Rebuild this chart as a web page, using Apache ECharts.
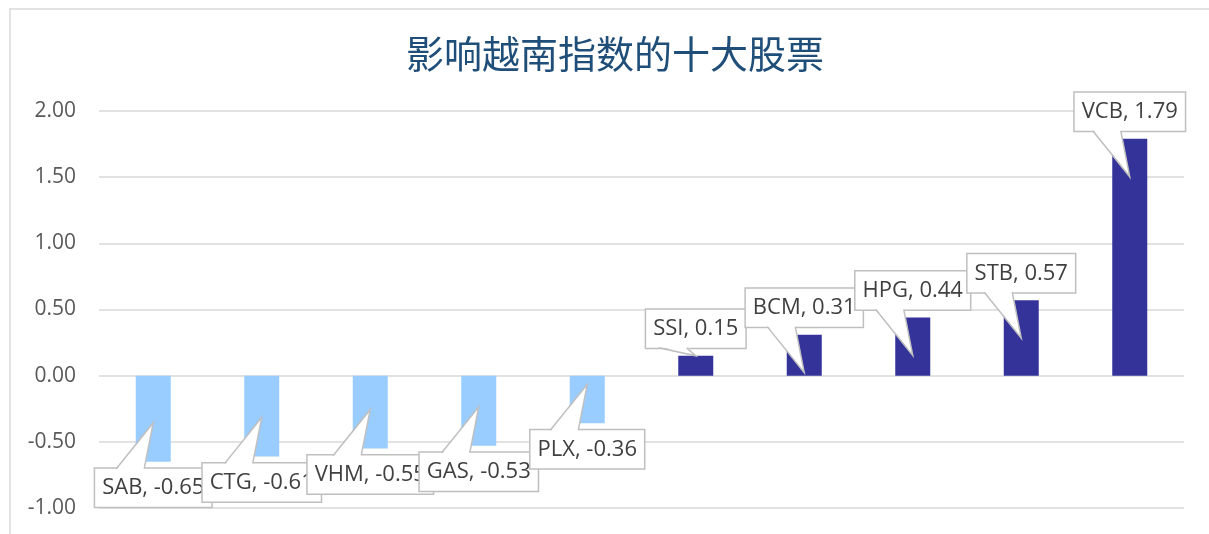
<!DOCTYPE html>
<html>
<head>
<meta charset="utf-8">
<script src="https://cdn.jsdelivr.net/npm/echarts@6/dist/echarts.min.js"></script>
<style>
  html, body { margin: 0; padding: 0; background: #fff; }
  #main { width: 1209px; height: 534px; }
</style>
</head>
<body>
<div id="main"></div>
<script>
  // 股票代码与对越南指数的影响点数
  var stocks = ['SAB', 'CTG', 'VHM', 'GAS', 'PLX', 'SSI', 'BCM', 'HPG', 'STB', 'VCB'];
  var impact = [-0.65, -0.61, -0.55, -0.53, -0.36, 0.15, 0.31, 0.44, 0.57, 1.79];
  var yTicks = [-1.00, -0.50, 0.00, 0.50, 1.00, 1.50, 2.00];

  var posColor = '#333399';
  var negColor = '#99ccff';
  var boxBorder = '#bfbfbf';

  var myChart = echarts.init(document.getElementById('main'));

  // 标注框 + 指针
  function renderCallout(params, api) {
    var idx = api.value(0);
    var val = api.value(1);
    var end = api.coord([idx, val]);
    var base = api.coord([idx, 0]);
    var cx = end[0];
    var text = stocks[idx] + ', ' + val.toFixed(2);
    var boxH = 38;
    var edge, cy, tipY, dir;
    if (val >= 0) {
      dir = 1;
      edge = end[1] - 8;
      cy = edge - boxH / 2;
      tipY = edge + 46;
      if (tipY > base[1] - 2) tipY = end[1];
    } else {
      dir = -1;
      edge = end[1] + 7;
      cy = edge + boxH / 2;
      tipY = edge - 46;
      if (tipY < base[1] + 2) tipY = end[1];
    }
    var b1 = cx - 37, b2 = cx - 9;
    return {
      type: 'group',
      children: [
        {
          type: 'text',
          style: {
            text: text,
            x: cx,
            y: cy,
            align: 'center',
            verticalAlign: 'middle',
            fontSize: 22,
            lineHeight: 26,
            fontFamily: 'Open Sans',
            fill: '#404040',
            backgroundColor: '#fff',
            borderColor: boxBorder,
            borderWidth: 1.5,
            padding: [6, 7, 6, 7]
          }
        },
        {
          type: 'polygon',
          shape: { points: [[b1, edge - dir * 1.5], [cx, tipY], [b2, edge - dir * 1.5]] },
          style: { fill: '#fff', stroke: null }
        },
        {
          type: 'polyline',
          shape: { points: [[b1, edge], [cx, tipY], [b2, edge]] },
          style: { fill: null, stroke: boxBorder, lineWidth: 1.5 }
        }
      ]
    };
  }

  myChart.setOption({
    animation: false,
    title: {
      text: '影响越南指数的十大股票',
      left: 406,
      top: 35,
      padding: 0,
      textStyle: {
        fontSize: 38,
        fontWeight: 'normal',
        color: '#1f4e79',
        fontFamily: 'Noto Sans CJK SC'
      }
    },
    graphic: [{
      type: 'rect',
      silent: true,
      shape: { x: 10, y: 9, width: 1400, height: 700 },
      style: { fill: null, stroke: '#d9d9d9', lineWidth: 1.5 }
    }],
    grid: {
      left: 99,
      right: 25,
      top: 111,
      bottom: 26
    },
    xAxis: {
      type: 'category',
      data: stocks,
      axisLine: { show: false },
      axisTick: { show: false },
      axisLabel: { show: false }
    },
    yAxis: {
      type: 'value',
      min: yTicks[0],
      max: yTicks[yTicks.length - 1],
      interval: 0.5,
      axisLine: { show: false },
      axisTick: { show: false },
      axisLabel: {
        margin: 23,
        fontSize: 21,
        color: '#595959',
        fontFamily: 'Open Sans',
        formatter: function (v) { return v.toFixed(2); }
      },
      splitLine: { lineStyle: { color: '#d9d9d9', width: 1.5 } }
    },
    series: [
      {
        type: 'bar',
        barWidth: 35,
        data: impact.map(function (v) {
          return { value: v, itemStyle: { color: v < 0 ? negColor : posColor } };
        })
      },
      {
        type: 'custom',
        renderItem: renderCallout,
        z: 10,
        data: impact.map(function (v, i) { return [i, v]; })
      }
    ]
  });
</script>
</body>
</html>
